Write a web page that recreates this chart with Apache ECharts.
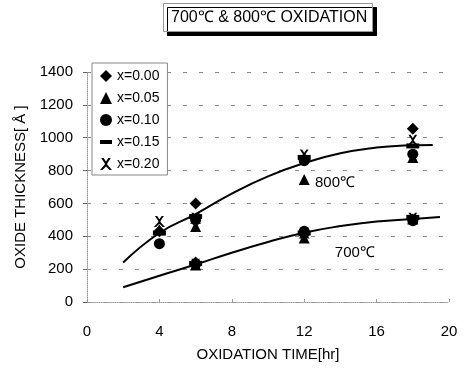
<!DOCTYPE html>
<html>
<head>
<meta charset="utf-8">
<script src="https://cdn.jsdelivr.net/npm/echarts@6/dist/echarts.min.js"></script>
<style>
  html, body { margin: 0; padding: 0; background: #fff; }
  #box { width: 470px; height: 374px; }
</style>
</head>
<body>
<div id="box"></div>
<script>
// measured points (time in hr, thickness in Å); 800℃ at 4/6/12/18 hr, 700℃ at 6/12/18 hr
var x000 = [[4, 430], [6, 600], [12, 870], [18, 1055], [6, 240], [12, 410], [18, 500]];
var x005 = [[4, 440], [6, 460], [12, 745], [18, 880], [6, 225], [12, 390], [18, 505]];
var x010 = [[4, 355], [6, 500], [12, 860], [18, 900], [6, 230], [12, 430], [18, 495]];
var x015 = [[4, 420], [6, 520], [12, 880], [18, 950], [6, 235], [12, 420], [18, 515]];
var x020 = [[4, 490], [6, 510], [12, 895], [18, 985], [6, 230], [12, 420], [18, 510]];
var fit800 = [[2, 240], [4, 420], [6, 535], [8, 660], [10, 765], [12, 845], [14, 905], [16, 940], [17.5, 952], [19.1, 955]];
var fit700 = [[2, 90], [4, 160], [6, 228], [8, 300], [10, 365], [12, 422], [14, 462], [16, 490], [18, 505], [19.5, 517]];
var yTicks = [0, 1400, 200];
var xTicks = [0, 20, 4];

var starPath = 'path://M1,0L3,0L5,3L7,0L9,0L6,4.5L6,5.5L10,10L8,10L5,7L2,10L0,10L4,5.5L4,4.5Z';
var dashPath = 'path://M0,0L12,0L12,4L0,4Z';

var myChart = echarts.init(document.getElementById('box'));
var font = 'Liberation Sans';

function pts(name, symbol, size, data) {
    return {
        name: name,
        type: 'scatter',
        symbol: symbol,
        symbolSize: size,
        itemStyle: { color: '#000', opacity: 1 },
        data: data,
        z: 3
    };
}

var option = {
    animation: false,
    textStyle: { fontFamily: font },
    title: {
        text: '700℃ & 800℃ OXIDATION',
        left: 163,
        top: 3,
        padding: [7, 6, 6, 8],
        backgroundColor: '#fff',
        borderColor: '#999',
        borderWidth: 1,
        shadowColor: '#000',
        shadowBlur: 0,
        shadowOffsetX: 4,
        shadowOffsetY: 4,
        textStyle: { fontSize: 16, fontWeight: 'normal', color: '#000', fontFamily: font }
    },
    legend: {
        orient: 'vertical',
        left: 92,
        top: 63,
        itemGap: 8,
        itemWidth: 12,
        itemHeight: 12,
        padding: [6, 8, 4, 8],
        borderColor: '#888',
        borderWidth: 1,
        backgroundColor: '#fff',
        textStyle: { fontSize: 14, color: '#000', fontFamily: font },
        data: [
            { name: 'x=0.00', icon: 'diamond' },
            { name: 'x=0.05', icon: 'triangle' },
            { name: 'x=0.10', icon: 'circle' },
            { name: 'x=0.15', icon: dashPath },
            { name: 'x=0.20', icon: starPath }
        ]
    },
    grid: { left: 87, right: 21, top: 72, bottom: 72 },
    xAxis: {
        type: 'value',
        min: xTicks[0], max: xTicks[1], interval: xTicks[2],
        name: 'OXIDATION TIME[hr]',
        nameLocation: 'middle',
        nameGap: 45,
        nameTextStyle: { fontSize: 15, color: '#000', fontFamily: font },
        axisLine: { lineStyle: { color: '#999', type: 'dotted' } },
        axisTick: { show: true, inside: true, length: 3, lineStyle: { color: '#999' } },
        axisLabel: { fontSize: 15, color: '#000', margin: 22 },
        splitLine: { show: false }
    },
    yAxis: {
        type: 'value',
        min: yTicks[0], max: yTicks[1], interval: yTicks[2],
        name: 'OXIDE THICKNESS[ Å ]',
        nameLocation: 'middle',
        nameGap: 54,
        nameTextStyle: { fontSize: 15, color: '#000', fontFamily: font },
        axisLine: { show: true, lineStyle: { color: '#999', type: 'dotted' } },
        axisTick: { show: true, length: 4, lineStyle: { color: '#666' } },
        axisLabel: { fontSize: 15, color: '#000', margin: 14, formatter: function (v) { return String(v); } },
        splitLine: { show: true, lineStyle: { color: '#888', type: [4, 12], width: 1 } }
    },
    series: [
        {
            name: 'fit800',
            type: 'line',
            smooth: true,
            showSymbol: false,
            lineStyle: { color: '#000', width: 2 },
            data: fit800,
            markPoint: {
                symbolSize: 0,
                label: { show: true, formatter: '800℃', fontSize: 15, color: '#000' },
                data: [{ coord: [13.7, 723] }]
            }
        },
        {
            name: 'fit700',
            type: 'line',
            smooth: true,
            showSymbol: false,
            lineStyle: { color: '#000', width: 2 },
            data: fit700,
            markPoint: {
                symbolSize: 0,
                label: { show: true, formatter: '700℃', fontSize: 15, color: '#000' },
                data: [{ coord: [14.8, 298] }]
            }
        },
        pts('x=0.00', 'diamond', 12, x000),
        pts('x=0.05', 'triangle', 11, x005),
        pts('x=0.10', 'circle', 11, x010),
        pts('x=0.15', dashPath, [13, 5], x015),
        pts('x=0.20', starPath, 11, x020)
    ]
};

myChart.setOption(option);
</script>
</body>
</html>
